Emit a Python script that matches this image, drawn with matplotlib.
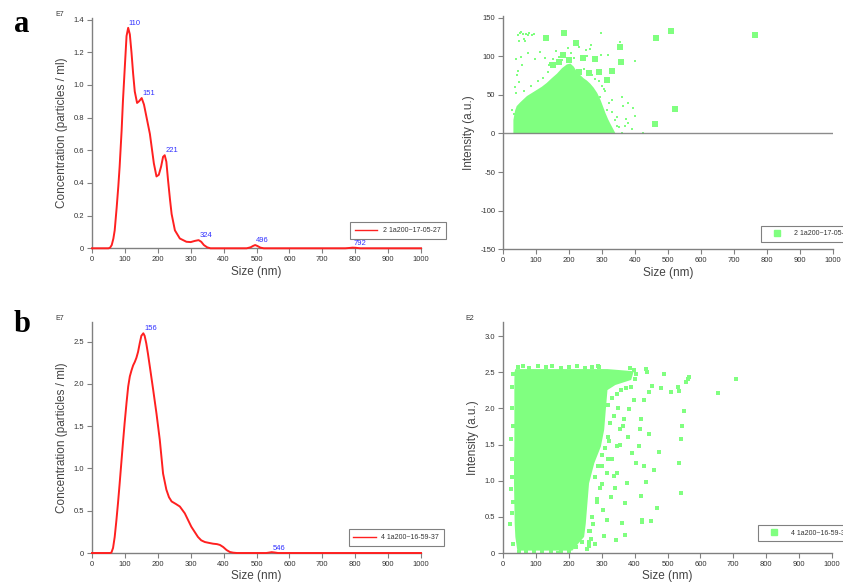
import matplotlib.pyplot as plt
from matplotlib.lines import Line2D

plt.rcParams['font.family'] = ['Liberation Sans', 'DejaVu Sans']
plt.rcParams['axes.unicode_minus'] = False

# ---- a: concentration vs size ----
a_size = [0, 50, 55, 60, 65, 69, 75, 80, 84, 90, 94, 100, 105, 110, 115, 120, 125, 130,
          137, 143, 151, 158, 166, 176, 188, 196, 203, 210, 216, 221, 226, 231, 237, 242,
          252, 267, 287, 300, 312, 324, 332, 340, 350, 360, 470, 482, 490, 496, 503, 512,
          522, 770, 782, 792, 802, 815, 1000]
a_conc = [0, 0, 0.004, 0.02, 0.06, 0.11, 0.25, 0.38, 0.5, 0.72, 0.9, 1.12, 1.3, 1.35,
          1.31, 1.2, 1.07, 0.96, 0.89, 0.9, 0.92, 0.88, 0.8, 0.7, 0.52, 0.44, 0.45, 0.5,
          0.56, 0.57, 0.53, 0.42, 0.3, 0.21, 0.11, 0.06, 0.04, 0.038, 0.045, 0.05, 0.04,
          0.02, 0.006, 0, 0, 0.006, 0.015, 0.02, 0.014, 0.004, 0, 0, 0.002, 0.004, 0.003, 0, 0]
a_peaks = [110, 151, 221, 324, 496, 792]
a_peak_y = [1.35, 0.92, 0.57, 0.05, 0.02, 0.0]

# ---- b: concentration vs size ----
b_size = [0, 55, 59, 64, 69, 74, 79, 84, 89, 94, 99, 105, 110, 115, 120, 125, 130, 135,
          140, 145, 150, 156, 160, 165, 170, 176, 186, 196, 206, 216, 226, 234, 242, 255,
          267, 282, 292, 302, 312, 322, 332, 343, 355, 368, 380, 389, 399, 409, 419, 429,
          440, 530, 540, 546, 555, 565, 1000]
b_conc = [0, 0, 0.005, 0.06, 0.19, 0.38, 0.59, 0.82, 1.06, 1.3, 1.53, 1.78, 1.97, 2.09,
          2.16, 2.22, 2.26, 2.31, 2.38, 2.48, 2.57, 2.6, 2.57, 2.48, 2.36, 2.2, 1.93, 1.65,
          1.34, 0.94, 0.75, 0.66, 0.61, 0.58, 0.55, 0.47, 0.39, 0.31, 0.25, 0.19, 0.15, 0.13,
          0.12, 0.11, 0.105, 0.095, 0.07, 0.035, 0.012, 0.004, 0, 0, 0.006, 0.01, 0.006, 0, 0]
b_peaks = [156, 546]
b_peak_y = [2.6, 0.0]

# ---- a: intensity scatter ----
# dense core: upper edge of the solid cloud
a_core_x = [30, 35, 40, 51, 61, 71, 86, 101, 116, 131, 146, 162, 177, 192, 203, 213,
            223, 233, 243, 253, 263, 273, 284, 294, 302, 309, 317, 324, 334, 340]
a_core_y = [18, 30, 36, 41, 45, 49, 53, 57, 61, 66, 72, 78, 85, 90, 91, 87, 80, 76, 72,
            69, 65, 60, 53, 44, 35, 27, 19, 13, 5, 0]
a_small_x = [45, 50, 56, 60, 63, 70, 76, 80, 88, 95, 48, 66, 297, 38, 56, 76, 96, 111,
             44, 48, 38, 126, 142, 263, 268, 298, 319, 400, 354, 334, 362, 379, 395, 364,
             344, 374, 400, 390, 362, 423, 369, 314, 329, 294, 35, 42, 57, 152, 170, 205,
             240, 255, 285, 310, 345, 380, 28, 32, 250, 230, 198, 160, 65, 85, 105, 120,
             135, 140, 180, 215, 245, 270, 290, 305, 320, 330, 338, 350, 300, 280]
a_small_y = [128, 130, 131, 129, 122, 129, 127, 130, 128, 129, 119, 120, 130, 96, 99, 104,
             96, 105, 81, 67, 52, 98, 91, 109, 115, 102, 102, 94, 118, 80, 47, 39, 33, 35,
             21, 19, 23, 6, 0, 0, 9, 30, 43, 47, 60, 75, 88, 96, 99, 104, 96, 100, 82, 55,
             10, 13, 30, 25, 108, 112, 110, 107, 55, 62, 68, 72, 80, 88, 95, 97, 84, 75,
             68, 58, 40, 28, 18, 8, 62, 70]
a_big_x = [131, 184, 220, 182, 243, 278, 314, 331, 354, 357, 463, 508, 764, 522, 461,
           200, 170, 150, 230, 260, 290]
a_big_y = [124, 130, 117, 102, 98, 96, 69, 81, 112, 92, 123, 132, 128, 32, 12,
           95, 92, 88, 80, 78, 80]

# ---- b: intensity scatter (E2) ----
b_core_y = [0.04, 0.23, 0.41, 0.69, 0.97, 1.25, 1.48, 1.71, 1.99, 2.26, 2.33, 2.4,
            2.52, 2.55]
b_core_left = [42, 36, 34, 33, 32, 32, 33, 33, 33, 33, 33, 33, 34, 36]
b_core_right = [209, 245, 250, 255, 260, 276, 296, 306, 311, 316, 340, 388, 396, 316]
b_pts_x = [434, 439, 490, 480, 510, 531, 536, 556, 566, 561, 653, 709, 549, 543, 541,
           535, 541, 474, 467, 451, 421, 423, 418, 434, 459, 429, 444, 416, 393, 378,
           372, 362, 342, 372, 403, 413, 418, 429, 444, 454, 398, 383, 357, 347, 337,
           327, 316, 306, 281, 255, 168, 367, 337, 321, 291, 23, 23, 22, 31, 29, 300,
           310, 320, 330, 345, 355, 295, 305, 285, 275, 265, 260, 350, 365, 380, 340]
b_pts_y = [2.54, 2.5, 2.47, 2.28, 2.22, 2.29, 2.24, 2.36, 2.43, 2.4, 2.21, 2.4, 1.97,
           1.75, 1.57, 1.25, 0.83, 1.39, 0.62, 0.44, 0.46, 0.43, 0.79, 0.98, 1.15, 1.2,
           1.64, 1.71, 1.38, 0.97, 0.69, 0.41, 0.18, 0.25, 1.25, 1.48, 1.85, 2.12, 2.22,
           2.31, 2.12, 1.99, 1.71, 1.48, 1.06, 0.78, 0.46, 0.23, 0.13, 0.06, 0.0, 1.85,
           1.89, 2.47, 2.57, 1.57, 0.89, 0.4, 0.13, 2.47, 1.2, 1.45, 1.6, 1.3, 1.1, 1.5,
           0.9, 0.6, 0.7, 0.4, 0.3, 0.15, 2.0, 1.75, 1.6, 0.9]
# ragged rim of the dense block
b_rim_x = [45, 60, 80, 105, 130, 150, 175, 200, 225, 250, 270, 290, 28, 27, 29, 26,
           28, 30, 27, 50, 70, 95, 120, 145, 175, 200, 222, 240, 262, 270, 285, 300,
           315, 318, 322, 325, 262, 268, 280, 290, 300, 320, 330, 345, 360, 375, 390,
           402, 405, 398, 385]
b_rim_y = [2.57, 2.58, 2.56, 2.58, 2.57, 2.58, 2.56, 2.57, 2.58, 2.56, 2.57, 2.58, 2.3,
           2.0, 1.75, 1.3, 1.05, 0.7, 0.55, 0.02, 0.01, 0.03, 0.02, 0.01, 0.02, 0.03,
           0.08, 0.15, 0.3, 0.5, 0.75, 0.95, 1.1, 1.3, 1.55, 1.8, 0.1, 0.2, 1.05, 1.2,
           1.35, 2.05, 2.15, 2.2, 2.25, 2.28, 2.3, 2.4, 2.48, 2.53, 2.56]

red = '#ff2020'
green = '#80ff80'
grey = '#808080'
blue = '#3030ff'

W, H = 843, 586
fig = plt.figure(figsize=(W / 100, H / 100), dpi=100)


def rect(left, right, top, bottom):
    return [left / W, 1 - bottom / H, (right - left) / W, (bottom - top) / H]


def style(ax):
    for s in ['top', 'right']:
        ax.spines[s].set_visible(False)
    for s in ['left', 'bottom']:
        ax.spines[s].set_color(grey)
        ax.spines[s].set_linewidth(1.0)
    ax.tick_params(direction='out', length=3.5, width=0.8, color=grey,
                   labelsize=5.5, labelcolor='#333333', pad=2)
    ax.set_xlim(0, 1000)
    ax.set_xticks(range(0, 1001, 100))
    ax.set_xlabel('Size (nm)', fontsize=8.5, color='#444444', labelpad=2)


def legend(ax, handle, label, x0, y0):
    lg = ax.legend([handle], [label], loc='lower left', bbox_to_anchor=(x0, y0),
                   fontsize=5, frameon=True, fancybox=False, borderpad=0.7,
                   handlelength=3.2, borderaxespad=0, framealpha=1)
    lg.get_frame().set_edgecolor(grey)
    lg.get_frame().set_linewidth(0.8)
    for t in lg.get_texts():
        t.set_color('#333333')


# a - left
ax1 = fig.add_axes(rect(92, 421, 17.7, 248.3))
ax1.plot(a_size, a_conc, color=red, lw=1.4, clip_on=False, zorder=3)
for px, py in zip(a_peaks, a_peak_y):
    ax1.text(px + 2, py + 0.005, str(px), color=blue, fontsize=5.5, ha='left',
             va='bottom', zorder=6)
ax1.set_ylim(0, 1.412)
ax1.set_yticks([0, 0.2, 0.4, 0.6, 0.8, 1.0, 1.2, 1.4])
ax1.set_yticklabels(['0', '0.2', '0.4', '0.6', '0.8', '1.0', '1.2', '1.4'])
style(ax1)
ax1.set_ylabel('Concentration (particles / ml)', fontsize=8.5, color='#444444', labelpad=4)
legend(ax1, Line2D([], [], color=red, lw=1.0), '2 1a200~17-05-27', 0.785, 0.04)

# a - right
ax2 = fig.add_axes(rect(503, 833, 16, 249.3))
ax2.fill_between(a_core_x, 0, a_core_y, color=green, lw=0, zorder=2)
ax2.scatter(a_small_x, a_small_y, s=4, marker='s', color=green, lw=0, zorder=2)
ax2.scatter(a_big_x, a_big_y, s=14, marker='s', color=green, lw=0, zorder=2)
ax2.axhline(0, color=grey, lw=1.0, zorder=3, alpha=0.9)
ax2.set_ylim(-150, 152)
ax2.set_yticks([-150, -100, -50, 0, 50, 100, 150])
style(ax2)
ax2.set_ylabel('Intensity (a.u.)', fontsize=8.5, color='#444444', labelpad=4)
legend(ax2, Line2D([], [], color=green, marker='s', ls='', ms=4), '2 1a200~17-05-27', 0.782, 0.03)

# b - left
ax3 = fig.add_axes(rect(92, 421, 322.3, 553))
ax3.plot(b_size, b_conc, color=red, lw=1.4, clip_on=False, zorder=3)
for px, py in zip(b_peaks, b_peak_y):
    ax3.text(px + 2, py + 0.01, str(px), color=blue, fontsize=5.5, ha='left',
             va='bottom', zorder=6)
ax3.set_ylim(0, 2.73)
ax3.set_yticks([0, 0.5, 1.0, 1.5, 2.0, 2.5])
ax3.set_yticklabels(['0', '0.5', '1.0', '1.5', '2.0', '2.5'])
style(ax3)
ax3.set_ylabel('Concentration (particles / ml)', fontsize=8.5, color='#444444', labelpad=4)
legend(ax3, Line2D([], [], color=red, lw=1.0), '4 1a200~16-59-37', 0.78, 0.03)

# b - right
ax4 = fig.add_axes(rect(503, 832, 322.3, 553))
ax4.fill_betweenx(b_core_y, b_core_left, b_core_right, color=green, lw=0, zorder=2)
ax4.scatter(b_pts_x, b_pts_y, s=6, marker='s', color=green, lw=0, zorder=2)
ax4.scatter(b_rim_x, b_rim_y, s=6, marker='s', color=green, lw=0, zorder=2)
ax4.set_ylim(0, 3.19)
ax4.set_yticks([0, 0.5, 1.0, 1.5, 2.0, 2.5, 3.0])
ax4.set_yticklabels(['0', '0.5', '1.0', '1.5', '2.0', '2.5', '3.0'])
style(ax4)
ax4.set_ylabel('Intensity (a.u.)', fontsize=8.5, color='#444444', labelpad=4)
legend(ax4, Line2D([], [], color=green, marker='s', ls='', ms=4), '4 1a200~16-59-37', 0.775, 0.05)

# exponent tags and panel letters
fig.text(60 / W, 1 - 14 / H, 'E7', fontsize=5, color='#333333', ha='center', va='center')
fig.text(60 / W, 1 - 318 / H, 'E7', fontsize=5, color='#333333', ha='center', va='center')
fig.text(470 / W, 1 - 318 / H, 'E2', fontsize=5, color='#333333', ha='center', va='center')
fig.text(22 / W, 1 - 25 / H, 'a', fontsize=22, fontweight='bold', family='Liberation Serif',
         ha='center', va='center')
fig.text(22 / W, 1 - 325 / H, 'b', fontsize=22, fontweight='bold', family='Liberation Serif',
         ha='center', va='center')

fig.savefig('out.png', dpi=100)
